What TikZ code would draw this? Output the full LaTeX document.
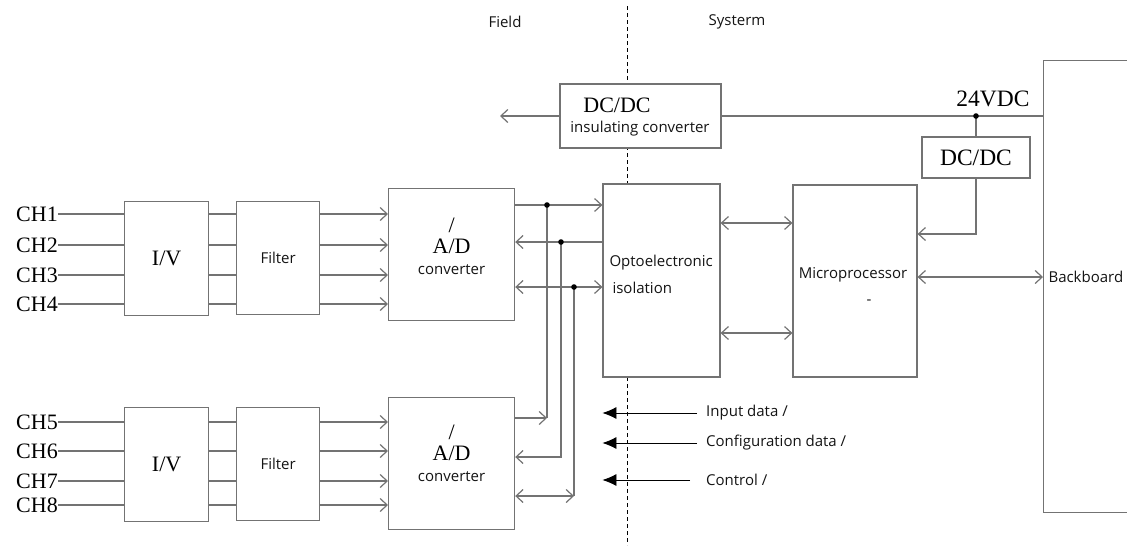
\documentclass[tikz,border=0pt]{standalone}
\usepackage{fontspec}
\setmainfont{Liberation Serif}
\newfontfamily\uisans{Open Sans}
\usetikzlibrary{arrows.meta}
\definecolor{wiregray}{RGB}{115,115,115}
\definecolor{inkgray}{RGB}{20,20,20}
\tikzset{
    >={Straight Barb[length=7pt,width=13pt]},
    wire/.style={draw=wiregray,line width=1.2pt},
    block/.style={wire,fill=white,inner sep=0pt},
    serif/.style={font=\fontsize{22}{24}\selectfont},
    bigserif/.style={font=\fontsize{23.5}{25}\selectfont},
    sans/.style={font=\fontsize{15}{18}\selectfont\uisans,text=inkgray},
    chlabel/.style={serif,anchor=east,inner sep=0pt},
    legend/.style={sans,anchor=west,inner sep=0pt},
}
\newcommand\InputRow[5]{% row, top of I/V and Filter, top of A/D, text lift, channels
    \node[block,serif,minimum width=84,minimum height=114,anchor=north west] (iv#1) at (124,#2) {I/V};
    \node[block,sans,minimum width=83,minimum height=113,anchor=north west] (flt#1) at (236,#2) {Filter};
    \node[block,minimum width=126,minimum height=132,anchor=north west] (ad#1) at (388,#3) {};
    \node[align=center,font=\fontsize{22}{21}\selectfont] (adtxt#1) at ([yshift=#4pt]ad#1.center)
        {/\\A/D\\{\uisans\fontsize{15}{18}\selectfont\color{inkgray}converter}};
    \foreach \n/\y in {#5} {
        \node[chlabel] (ch\n) at (58,\y) {CH\n};
        \draw[wire] (ch\n.east) -- (ch\n.east -| iv#1.west);
        \draw[wire] (ch\n.east -| iv#1.east) -- (ch\n.east -| flt#1.west);
        \draw[wire,->] (ch\n.east -| flt#1.east) -- (ch\n.east -| ad#1.west);
    }
}

\begin{document}
\begin{tikzpicture}[x=1pt,y=-1pt]
    \useasboundingbox (0,0) rectangle (1127,550);
    % field / system border
    \coordinate (divtop) at (627,6);
    \coordinate (divbot) at (627,545);
    \draw[black,line width=0.8pt,dash pattern=on 4pt off 3pt] (divtop) -- (divbot);
    \node[sans] (field) at (505,22) {Field};
    \node[sans] (system) at (737,22) {Systerm};

    % power supply
    \node[block,minimum width=161,minimum height=64] (ins) at (640.5,116) {};
    \node[serif] (instop) at (617,105) {DC/DC};
    \node[sans] (insbot) at (640,129) {insulating converter};
    \node[block,minimum width=100,minimum height=452,anchor=north west] (back) at (1043,60) {};
    \node[sans,anchor=west] (backtxt) at (1045,277) {Backboard};
    \node[block,bigserif,minimum width=108,minimum height=41] (dcdc) at (976,157.5) {DC/DC};
    \coordinate (fieldpwr) at (500,115);
    \coordinate (v24) at (ins.east -| dcdc.north);
    \node[bigserif] (v24txt) at (993,99) {24VDC};
    \draw[wire,->] (ins.west) -- (ins.west -| fieldpwr);
    \draw[wire] (ins.east) -- (ins.east -| back.west);
    \draw[wire] (v24) -- (dcdc.north);
    \fill[black] (v24) circle (2.8pt);

    % system side
    \node[block,minimum width=117,minimum height=193] (opto) at (661.5,280.5) {};
    \node[sans,anchor=west] (optotxt) at (606,263) {Optoelectronic};
    \node[sans,anchor=west] (isotxt) at (609,288) {isolation};
    \node[block,minimum width=124,minimum height=192] (micro) at (855,281) {};
    \node[sans] (microtxt) at (853,275) {Microprocessor};
    \node[sans] (microdash) at (869,302) {-};
    \draw[wire,->] (dcdc.south) |- ([yshift=47pt]micro.east);
    \draw[wire,<->] ([yshift=57.5pt]opto.east) -- ([yshift=57.5pt]opto.east -| micro.west);
    \draw[wire,<->] ([yshift=-52.5pt]opto.east) -- ([yshift=-52.5pt]opto.east -| micro.west);
    \draw[wire,<->] ([yshift=4pt]micro.east) -- ([yshift=4pt]micro.east -| back.west);

    % field side
    \InputRow{a}{201}{188}{8}{1/214,2/245,3/275,4/304}
    \InputRow{b}{407}{397}{10}{5/422,6/451,7/481,8/505}

    % bus between converters and isolation
    \coordinate (busA) at (547,205);
    \coordinate (busB) at (561,242);
    \coordinate (busC) at (574,287);
    \coordinate (tapA) at (547,418);
    \coordinate (tapB) at (561,457);
    \coordinate (tapC) at (574,496);
    \draw[wire,->] (busA -| ada.east) -- (busA -| opto.west);
    \draw[wire,<-] (busB -| ada.east) -- (busB -| opto.west);
    \draw[wire,<->] (busC -| ada.east) -- (busC -| opto.west);
    \draw[wire] (busA) -- (tapA);
    \draw[wire,->] (tapA -| adb.east) -- (tapA);
    \draw[wire,->] (busB) |- (tapB -| adb.east);
    \draw[wire] (busC) -- (tapC);
    \draw[wire,<->] (tapC -| adb.east) -- (tapC);
    \foreach \j in {busA,busB,busC} \fill[black] (\j) circle (2.8pt);

    % legend
    \foreach \n/\y/\gap/\txt in {in/413/9pt/{Input data /},cfg/443/9pt/{Configuration data /},ctl/480/16pt/{Control /}} {
        \node[legend] (leg\n) at (706,\y) {\txt};
        \draw[black,line width=0.8pt,-{Latex[length=14pt,width=12pt]}] ([xshift=-\gap]leg\n.west) -- (leg\n.west -| opto.west);
    }
\end{tikzpicture}
\end{document}
